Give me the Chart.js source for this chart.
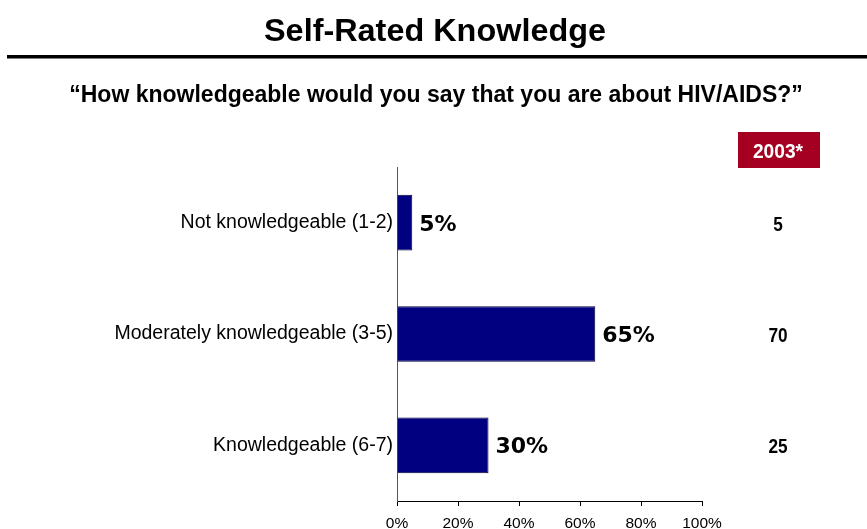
<!DOCTYPE html>
<html>
<head>
<meta charset="utf-8">
<script src="https://cdn.jsdelivr.net/npm/chart.js@4.4.1/dist/chart.umd.min.js"></script>
<style>
  html, body { margin: 0; padding: 0; background: #fff; }
  #wrap { width: 867px; height: 529px; position: relative; }
</style>
</head>
<body>
<div id="wrap"><canvas id="knowChart" width="867" height="529"></canvas></div>
<script>
// Survey data
const categories = ["Not knowledgeable (1-2)", "Moderately knowledgeable (3-5)", "Knowledgeable (6-7)"];
const current = [5, 65, 30];
const prior2003 = [5, 70, 25];
const xTicks = [0, 20, 40, 60, 80, 100];

const ARIAL = "'Liberation Sans', Arial, sans-serif";
const WIDE = "'DejaVu Sans', Verdana, sans-serif";

// text with a horizontal stretch factor (sx), anchored like fillText
function stretchedText(ctx, text, x, y, font, sx, align) {
    ctx.save();
    ctx.font = font;
    ctx.textAlign = align;
    ctx.translate(x, y);
    ctx.scale(sx, 1);
    ctx.fillText(text, 0, 0);
    ctx.restore();
}

// Title, rule, question text and the 2003 comparison column
const decorations = {
    id: 'decorations',
    afterDraw(chart) {
        const ctx = chart.ctx;
        ctx.save();
        ctx.fillStyle = '#000';
        ctx.textBaseline = 'alphabetic';
        stretchedText(ctx, "Self-Rated Knowledge", 435, 41, "bold 31px " + ARIAL, 1.045, 'center');

        ctx.fillRect(7, 55, 860, 3.5);

        stretchedText(ctx, "\u201CHow knowledgeable would you say that you are about HIV/AIDS?\u201D",
            436, 102, "bold 23px " + ARIAL, 1.0, 'center');

        // 2003 header box
        ctx.fillStyle = '#a50021';
        ctx.fillRect(738, 132, 82, 36);
        ctx.fillStyle = '#fff';
        stretchedText(ctx, "2003*", 778, 158, "bold 20px " + ARIAL, 0.96, 'center');

        // 2003 values
        const yScale = chart.scales.y;
        ctx.fillStyle = '#000';
        prior2003.forEach((v, i) => {
            stretchedText(ctx, String(v), 778, yScale.getPixelForValue(i) + 8, "bold 20px " + ARIAL, 0.86, 'center');
        });

        // percent labels at the bar ends
        const meta = chart.getDatasetMeta(0);
        meta.data.forEach((bar, i) => {
            stretchedText(ctx, current[i] + '%', bar.x + 7, bar.y + 8, "bold 22px " + WIDE, 1.0, 'left');
        });
        ctx.restore();
    }
};

const ctx = document.getElementById('knowChart').getContext('2d');
new Chart(ctx, {
    type: 'bar',
    data: {
        labels: categories,
        datasets: [{
            data: current,
            backgroundColor: '#000080',
            borderColor: '#000033',
            borderWidth: 1,
            categoryPercentage: 1,
            barPercentage: 0.5
        }]
    },
    options: {
        indexAxis: 'y',
        responsive: false,
        animation: false,
        layout: { padding: { top: 167, right: 165, left: 0, bottom: 0 } },
        plugins: {
            legend: { display: false },
            tooltip: { enabled: false }
        },
        scales: {
            x: {
                min: 0,
                max: 100,
                afterBuildTicks: scale => { scale.ticks = xTicks.map(v => ({ value: v })); },
                afterFit: scale => { scale.height = 28; },
                grid: { drawOnChartArea: false, drawTicks: true, tickLength: 5, color: '#000' },
                border: { color: '#000', width: 1 },
                ticks: {
                    color: '#000',
                    padding: 8,
                    font: { family: ARIAL, size: 15.5 },
                    callback: v => v + '%'
                }
            },
            y: {
                afterFit: scale => { scale.width = 397; },
                grid: { display: false, drawTicks: false },
                border: { color: '#555', width: 1 },
                ticks: {
                    color: '#000',
                    padding: 4,
                    font: { family: ARIAL, size: 19.5 }
                }
            }
        }
    },
    plugins: [decorations]
});
</script>
</body>
</html>
